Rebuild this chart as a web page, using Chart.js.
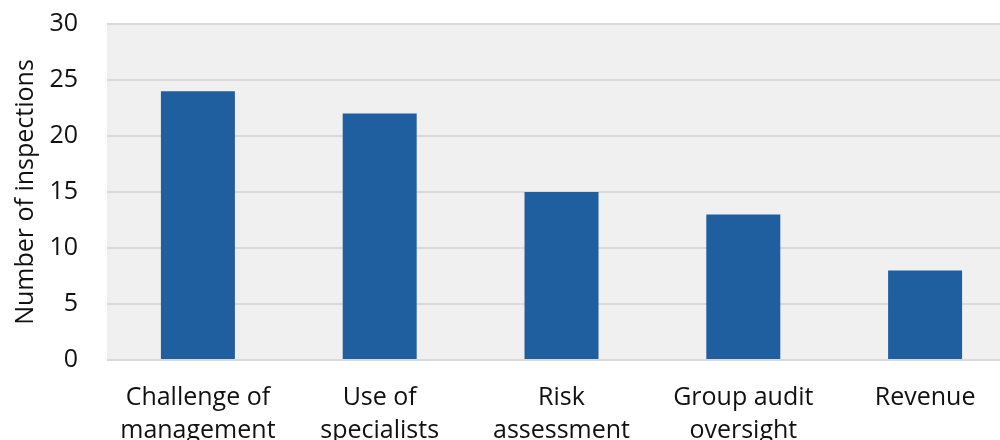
<!DOCTYPE html>
<html>
<head>
<meta charset="utf-8">
<script src="https://cdn.jsdelivr.net/npm/chart.js@4/dist/chart.umd.min.js"></script>
<style>
  html, body { margin: 0; padding: 0; background: #ffffff; overflow: hidden; }
  /* the plot runs on a little past the right edge of the window */
  #wrap { width: 1016px; height: 440px; position: relative; }
</style>
</head>
<body>
<div id="wrap"><canvas id="chart"></canvas></div>
<script>
// Inspection findings by area
const categories = [
  ["Challenge of", "management"],
  ["Use of", "specialists"],
  ["Risk", "assessment"],
  ["Group audit", "oversight"],
  ["Revenue"]
];
const inspections = [24, 22, 15, 13, 8];
const yTicks = [0, 5, 10, 15, 20, 25, 30];

const FONT = "'Open Sans', 'Noto Sans', sans-serif";

// Grey panel behind the plotting area
const plotBackground = {
  id: 'plotBackground',
  beforeDraw(chart) {
    const { ctx, chartArea: a } = chart;
    ctx.save();
    ctx.fillStyle = '#f0f0f0';
    ctx.fillRect(a.left, a.top, a.right - a.left, a.bottom - a.top);
    ctx.restore();
  }
};

new Chart(document.getElementById('chart'), {
  type: 'bar',
  data: {
    labels: categories,
    datasets: [{
      data: inspections,
      backgroundColor: '#1f5fa0',
      borderWidth: 0,
      barPercentage: 0.814,
      categoryPercentage: 0.5
    }]
  },
  options: {
    responsive: true,
    maintainAspectRatio: false,
    animation: false,
    layout: { padding: { top: 24, right: 0, left: 0, bottom: 0 } },
    plugins: { legend: { display: false }, tooltip: { enabled: false } },
    scales: {
      x: {
        grid: { display: false, drawTicks: false },
        border: { display: false },
        ticks: {
          color: '#111111',
          font: { family: FONT, size: 25, lineHeight: 1.3 },
          padding: 22,
          maxRotation: 0,
          autoSkip: false
        },
        afterFit(scale) {
          scale.height = 80;
          scale.paddingLeft = 0;
          scale.paddingRight = 0;
        }
      },
      y: {
        min: 0,
        max: 30,
        afterBuildTicks(scale) { scale.ticks = yTicks.map(v => ({ value: v })); },
        grid: { color: '#d9d9d9', lineWidth: 2, drawTicks: false },
        border: { display: false },
        ticks: {
          color: '#111111',
          font: { family: FONT, size: 25 },
          padding: 29
        },
        title: {
          display: true,
          text: 'Number of inspections',
          color: '#111111',
          font: { family: FONT, size: 25 },
          padding: { top: 11, bottom: 0 }
        },
        afterFit(scale) {
          scale.width = 107;
          // keep the plot flush with the layout padding
          scale.paddingTop = 0;
          scale.paddingBottom = 0;
        }
      }
    }
  },
  plugins: [plotBackground]
});
</script>
</body>
</html>
